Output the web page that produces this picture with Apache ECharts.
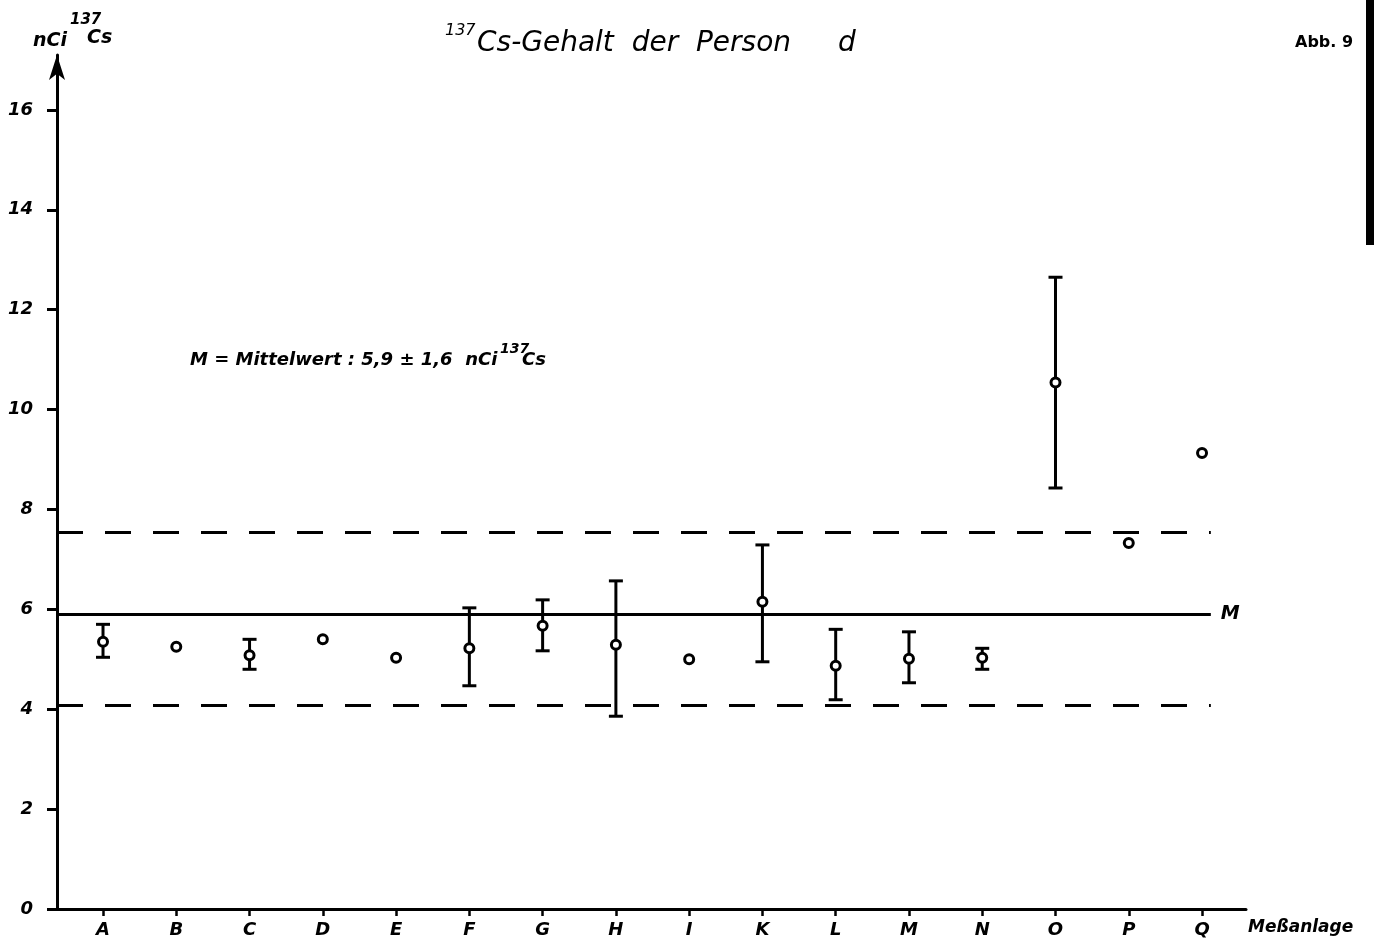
<!DOCTYPE html>
<html>
<head>
<meta charset="utf-8">
<script src="https://cdn.jsdelivr.net/npm/echarts@6/dist/echarts.min.js"></script>
<style>
  html, body { margin: 0; padding: 0; background: #fff; }
  #chart { width: 1374px; height: 946px; }
</style>
</head>
<body>
<div id="chart"></div>
<script>
// Measuring stations (Meßanlage) and the 137Cs body content of person d, in nCi
const categories = ['A', 'B', 'C', 'D', 'E', 'F', 'G', 'H', 'I', 'K', 'L', 'M', 'N', 'O', 'P', 'Q'];
const values  = [5.35, 5.25, 5.08, 5.40, 5.03, 5.22, 5.67, 5.29, 5.00, 6.15, 4.87, 5.01, 5.03, 10.54, 7.33, 9.13];
const errLow  = [5.04, null, 4.80, null, null, 4.47, 5.17, 3.86, null, 4.95, 4.19, 4.53, 4.80, 8.43, null, null];
const errHigh = [5.70, null, 5.40, null, null, 6.03, 6.19, 6.57, null, 7.29, 5.60, 5.55, 5.22, 12.65, null, null];
const yTicks = [0, 2, 4, 6, 8, 10, 12, 14, 16];

// Mean value M and the band drawn around it
const meanValue = 5.9;
const bandUpper = 7.55;
const bandLower = 4.07;

// Axis extents
const X_MIN = -0.628;
const X_MAX = 15.6;
const Y_MAX = 17.1;
const LINE_END = 15.12;

const FONT = '"DejaVu Sans", sans-serif';
const ink = '#000';

const indices = categories.map((c, i) => i);
const pointData = values.map((v, i) => [i, v]);
const barData = indices.filter(i => errLow[i] != null).map(i => [i, errLow[i], errHigh[i]]);

function renderErrorBar(params, api) {
  const x = api.value(0);
  const lo = api.coord([x, api.value(1)]);
  const hi = api.coord([x, api.value(2)]);
  const w = 7;
  const style = { stroke: ink, lineWidth: 3 };
  return {
    type: 'group',
    children: [
      { type: 'line', shape: { x1: lo[0], y1: lo[1], x2: hi[0], y2: hi[1] }, style },
      { type: 'line', shape: { x1: hi[0] - w, y1: hi[1], x2: hi[0] + w, y2: hi[1] }, style },
      { type: 'line', shape: { x1: lo[0] - w, y1: lo[1], x2: lo[0] + w, y2: lo[1] }, style }
    ]
  };
}

const dashed = { color: ink, width: 3, type: [26, 22], dashOffset: 0 };

const chart = echarts.init(document.getElementById('chart'), null, { renderer: 'canvas' });

chart.setOption({
  animation: false,
  backgroundColor: '#fff',
  grid: { left: 57, right: 128, top: 55, bottom: 37, containLabel: false },
  xAxis: {
    type: 'value',
    min: X_MIN,
    max: X_MAX,
    splitLine: { show: false },
    axisLine: { show: true, onZero: false, lineStyle: { color: ink, width: 3 } },
    axisTick: { show: true, customValues: indices, length: 7, lineStyle: { color: ink, width: 2.5 } },
    axisLabel: {
      customValues: indices,
      formatter: v => categories[Math.round(v)],
      color: ink,
      fontFamily: FONT,
      fontStyle: 'italic',
      fontWeight: 'bold',
      fontSize: 18,
      margin: 12
    }
  },
  yAxis: {
    type: 'value',
    min: 0,
    max: Y_MAX,
    interval: 2,
    splitLine: { show: false },
    axisLine: {
      show: true,
      onZero: false,
      symbol: ['none', 'arrow'],
      symbolSize: [12, 25],
      lineStyle: { color: ink, width: 3 }
    },
    axisTick: { show: true, customValues: yTicks, length: 10, lineStyle: { color: ink, width: 3 } },
    axisLabel: {
      customValues: yTicks,
      color: ink,
      fontFamily: FONT,
      fontStyle: 'italic',
      fontWeight: 'bold',
      fontSize: 18,
      margin: 24
    }
  },
  series: [
    {
      type: 'custom',
      name: 'Fehler',
      renderItem: renderErrorBar,
      data: barData,
      encode: { x: 0, y: [1, 2] },
      z: 2,
      silent: true
    },
    {
      type: 'scatter',
      name: 'Messwert',
      data: pointData,
      symbol: 'circle',
      symbolSize: 9,
      itemStyle: { color: '#fff', opacity: 1, borderColor: ink, borderWidth: 3 },
      z: 4,
      silent: true,
      markLine: {
        silent: true,
        symbol: 'none',
        animation: false,
        data: [
          [
            {
              coord: [X_MIN, meanValue],
              lineStyle: { color: ink, width: 3, type: 'solid' },
              label: {
                show: true,
                position: 'end',
                formatter: 'M',
                color: ink,
                fontFamily: FONT,
                fontStyle: 'italic',
                fontWeight: 'bold',
                fontSize: 19,
                distance: 10
              }
            },
            { coord: [LINE_END, meanValue] }
          ],
          [
            { coord: [X_MIN, bandUpper], lineStyle: dashed, label: { show: false } },
            { coord: [LINE_END, bandUpper] }
          ],
          [
            { coord: [X_MIN, bandLower], lineStyle: dashed, label: { show: false } },
            { coord: [LINE_END, bandLower] }
          ]
        ]
      }
    }
  ],
  graphic: [
    // chart title
    {
      type: 'text', left: 445, top: 23,
      style: { text: '137', font: 'italic 16px ' + FONT, fill: ink }
    },
    {
      type: 'text', left: 477, top: 30,
      style: { text: 'Cs-Gehalt  der  Person', font: 'italic 28px ' + FONT, fill: ink }
    },
    {
      type: 'text', left: 838, top: 30,
      style: { text: 'd', font: 'italic 28px ' + FONT, fill: ink }
    },
    // figure number
    {
      type: 'text', left: 1295, top: 35,
      style: { text: 'Abb. 9', font: 'bold 16px ' + FONT, fill: ink }
    },
    // y axis unit
    {
      type: 'text', left: 33, top: 32,
      style: { text: 'nCi', font: 'italic bold 19px ' + FONT, fill: ink }
    },
    {
      type: 'text', left: 70, top: 13,
      style: { text: '137', font: 'italic bold 15px ' + FONT, fill: ink }
    },
    {
      type: 'text', left: 87, top: 29,
      style: { text: 'Cs', font: 'italic bold 19px ' + FONT, fill: ink }
    },
    // mean value note
    {
      type: 'text', left: 190, top: 351,
      style: { text: 'M = Mittelwert : 5,9 ± 1,6  nCi', font: 'italic bold 18px ' + FONT, fill: ink }
    },
    {
      type: 'text', left: 500, top: 342,
      style: { text: '137', font: 'italic bold 14px ' + FONT, fill: ink }
    },
    {
      type: 'text', left: 522, top: 351,
      style: { text: 'Cs', font: 'italic bold 18px ' + FONT, fill: ink }
    },
    // x axis name
    {
      type: 'text', left: 1248, top: 919,
      style: { text: 'Meßanlage', font: 'italic bold 17px ' + FONT, fill: ink }
    },
    // dark frame edge on the right
    {
      type: 'rect', shape: { x: 1366, y: 0, width: 8, height: 245 },
      style: { fill: ink }
    }
  ]
});
</script>
</body>
</html>
